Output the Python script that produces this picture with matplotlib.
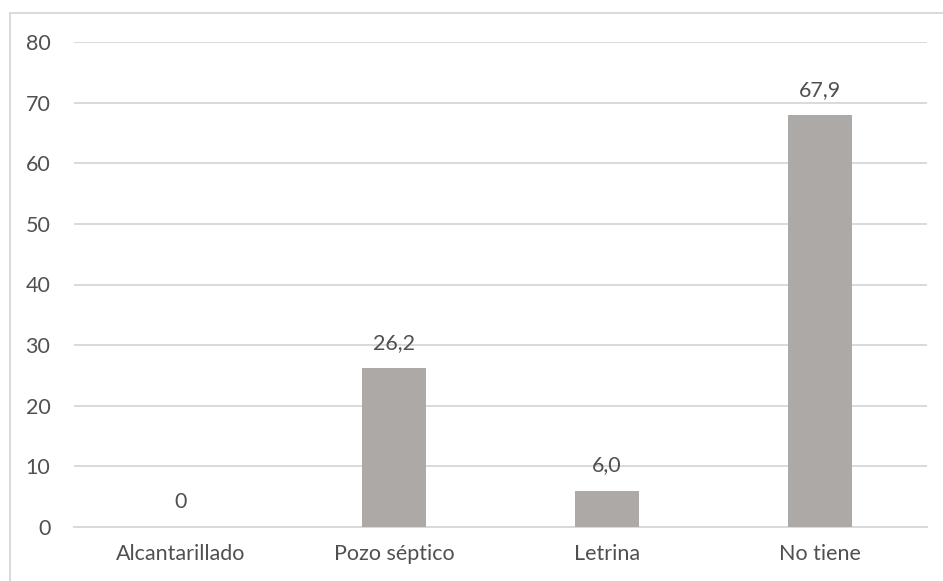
import matplotlib
matplotlib.use("Agg")
import matplotlib.pyplot as plt
from matplotlib.lines import Line2D

categories = ["Alcantarillado", "Pozo séptico", "Letrina", "No tiene"]
values = [0, 26.2, 6.0, 67.9]
labels = ["0", "26,2", "6,0", "67,9"]
yticks = [0, 10, 20, 30, 40, 50, 60, 70, 80]

plt.rcParams['font.family'] = ['Lato', 'DejaVu Sans']
W, H = 943, 581
fig = plt.figure(figsize=(W / 100, H / 100), dpi=100)
ax = fig.add_axes([74 / W, 1 - 527 / H, (927 - 74) / W, (527 - 42) / H])

text_color = "#505050"
grid_color = "#D9D9D9"
bar_color = "#ADA9A7"
fs = 15.5

x = range(len(categories))
bars = ax.bar(x, values, width=0.30, color=bar_color, zorder=3)
ax.set_xlim(-0.5, len(categories) - 0.5)
ax.set_ylim(0, 80)
ax.set_yticks(yticks)
ax.set_yticklabels([str(t) for t in yticks])
ax.set_xticks(list(x))
ax.set_xticklabels(categories)

ax.yaxis.grid(True, color=grid_color, linewidth=1.4, zorder=0)
ax.set_axisbelow(True)
for s in ax.spines.values():
    s.set_visible(False)
ax.spines['bottom'].set_visible(True)
ax.spines['bottom'].set_color(grid_color)
ax.spines['bottom'].set_linewidth(1.4)
ax.tick_params(axis='both', length=0, colors=text_color, labelsize=fs)
ax.tick_params(axis='y', pad=17)
ax.tick_params(axis='x', pad=12)

for xi, v, lab in zip(x, values, labels):
    ax.annotate(lab, (xi, v), xytext=(0, 11), textcoords='offset points',
                ha='center', va='bottom', color=text_color, fontsize=fs)

# chart border (top and left visible)
fig.add_artist(Line2D([10 / W, 1.0], [1 - 13 / H, 1 - 13 / H], color=grid_color, linewidth=1.4, transform=fig.transFigure))
fig.add_artist(Line2D([10 / W, 10 / W], [0, 1 - 13 / H], color=grid_color, linewidth=1.4, transform=fig.transFigure))

fig.savefig("out.png", dpi=100)
